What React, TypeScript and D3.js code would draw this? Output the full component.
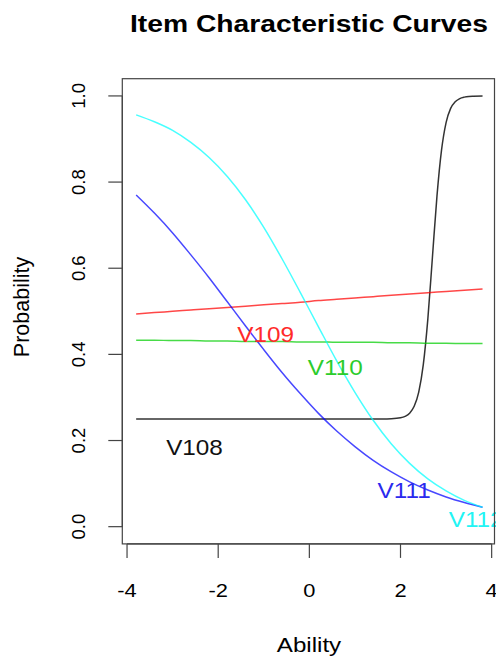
import React from "react";
import * as d3 from "d3";

// ---- Data ----
const xGrid = [-3.8, -3.4, -3.0, -2.6, -2.2, -1.8, -1.4, -1.0, -0.6, -0.2, 0.2, 0.6, 1.0, 1.4, 1.8, 2.2, 2.6, 3.0, 3.4, 3.8];

const v109 = [0.494, 0.497, 0.5, 0.503, 0.506, 0.509, 0.512, 0.515, 0.518, 0.521, 0.525, 0.528, 0.531, 0.534, 0.537, 0.54, 0.543, 0.546, 0.549, 0.552];
const v110 = [0.433, 0.433, 0.432, 0.432, 0.431, 0.431, 0.43, 0.43, 0.43, 0.429, 0.429, 0.428, 0.428, 0.428, 0.427, 0.427, 0.426, 0.426, 0.425, 0.425];
const v111 = [0.77, 0.728, 0.682, 0.631, 0.578, 0.522, 0.466, 0.411, 0.358, 0.309, 0.263, 0.222, 0.186, 0.154, 0.127, 0.104, 0.085, 0.069, 0.056, 0.045];
const v112 = [0.956, 0.94, 0.92, 0.892, 0.857, 0.813, 0.759, 0.695, 0.622, 0.544, 0.464, 0.385, 0.312, 0.247, 0.192, 0.147, 0.111, 0.083, 0.061, 0.045];

const xGrid108 = [-3.8, -3.0, -2.0, -1.0, 0.0, 1.0, 1.6, 1.8, 2.0, 2.1, 2.2, 2.3, 2.4, 2.5, 2.6, 2.7, 2.8, 2.9, 3.0, 3.1, 3.2, 3.3, 3.4, 3.5, 3.6, 3.8];
const v108 = [0.25, 0.25, 0.25, 0.25, 0.25, 0.25, 0.2501, 0.2506, 0.2528, 0.2561, 0.2635, 0.2794, 0.3124, 0.376, 0.4825, 0.625, 0.7675, 0.874, 0.938, 0.971, 0.9865, 0.9939, 0.9972, 0.9988, 0.9994, 0.9999];

const itemNames = ["V108", "V109", "V110", "V111", "V112"];
const itemColors = ["#000000", "#ff0000", "#00cd00", "#0000ff", "#00ffff"];
const labelColors = ["#111111", "#ff2a2a", "#2ccc2c", "#2a2aee", "#22f4f4"];
const labelX = [-2.52, -0.96, 0.57, 2.08, 3.66];
const labelY = [0.185, 0.447, 0.372, 0.085, 0.018];

const xTicks = [-4, -2, 0, 2, 4];
const yTicks = [0, 0.2, 0.4, 0.6, 0.8, 1.0];

const titleText = "Item Characteristic Curves";
const xLabel = "Ability";
const yLabel = "Probability";

export default function App() {
  const W = 496, H = 659;
  const x = d3.scaleLinear().domain([-4.104, 4.104]).range([122.3, 496.4]);
  const y = d3.scaleLinear().domain([-0.04, 1.04]).range([543.9, 78.7]);
  const boxRight = 494.5;
  const sx = 1.15; // horizontal stretch of the reference's text

  const series = [
    { xs: xGrid108, ys: v108 },
    { xs: xGrid, ys: v109 },
    { xs: xGrid, ys: v110 },
    { xs: xGrid, ys: v111 },
    { xs: xGrid, ys: v112 },
  ];

  const line = d3
    .line<[number, number]>()
    .x((d) => x(d[0]))
    .y((d) => y(d[1]))
    .curve(d3.curveMonotoneX);

  const font = "'Liberation Sans', Arial, Helvetica, sans-serif";
  const axisY = y(-0.04);
  const axisX = x(-4.104);
  const axisColor = "#444";

  return (
    <svg
      width={W}
      height={H}
      style={{ position: "absolute", left: 0, top: 0, background: "#fff" }}
      fontFamily={font}
    >
      <rect x={0} y={0} width={W} height={H} fill="#fff" />
      {/* title */}
      <text x={309} y={31.5} textAnchor="middle" fontSize={23} fontWeight="bold" fill="#000" textLength={358} lengthAdjust="spacingAndGlyphs">
        {titleText}
      </text>

      {/* curves */}
      {series.map((s, i) => (
        <path
          key={itemNames[i]}
          d={line(s.xs.map((xv, j) => [xv, s.ys[j]] as [number, number])) || ""}
          fill="none"
          stroke={itemColors[i]}
          strokeWidth={1.5}
          strokeOpacity={i === 0 ? 0.8 : 0.72}
        />
      ))}

      {/* labels */}
      {itemNames.map((n, i) => (
        <text
          key={n}
          transform={`translate(${x(labelX[i])},${y(labelY[i])}) scale(1.08,1)`}
          dy="0.36em"
          textAnchor="middle"
          fontSize={22.5}
          fill={labelColors[i]}
        >
          {n}
        </text>
      ))}

      {/* box */}
      <rect x={axisX} y={y(1.04)} width={boxRight - axisX} height={axisY - y(1.04)} fill="none" stroke={axisColor} strokeWidth={1.2} />

      {/* x axis */}
      <line x1={x(xTicks[0])} x2={x(xTicks[xTicks.length - 1])} y1={axisY} y2={axisY} stroke={axisColor} strokeWidth={1.2} />
      {xTicks.map((t) => (
        <g key={"xt" + t}>
          <line x1={x(t)} x2={x(t)} y1={axisY} y2={axisY + 14} stroke={axisColor} strokeWidth={1.2} />
          <text transform={`translate(${x(t)},597) scale(${sx},1)`} textAnchor="middle" fontSize={19} fill="#000">
            {t}
          </text>
        </g>
      ))}

      {/* y axis */}
      <line x1={axisX} x2={axisX} y1={y(0)} y2={y(1)} stroke={axisColor} strokeWidth={1.2} />
      {yTicks.map((t) => (
        <g key={"yt" + t}>
          <line x1={axisX - 14} x2={axisX} y1={y(t)} y2={y(t)} stroke={axisColor} strokeWidth={1.2} />
          <text
            transform={`translate(85,${y(t)}) rotate(-90)`}
            textAnchor="middle"
            fontSize={18.5}
            fill="#000"
          >
            {d3.format(".1f")(t)}
          </text>
        </g>
      ))}

      {/* axis titles */}
      <text transform={`translate(309,652) scale(${sx},1)`} textAnchor="middle" fontSize={21} fill="#000">
        {xLabel}
      </text>
      <text transform={`translate(29,307) rotate(-90)`} textAnchor="middle" fontSize={21.5} fill="#000">
        {yLabel}
      </text>
    </svg>
  );
}
